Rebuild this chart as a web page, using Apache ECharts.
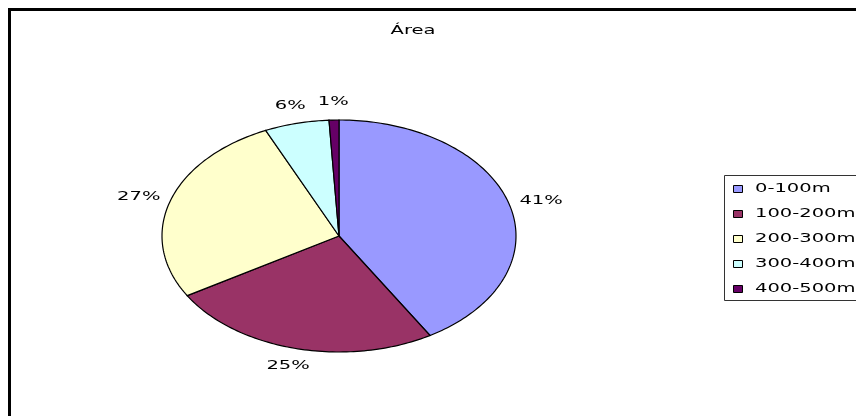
<!DOCTYPE html>
<html>
<head>
<meta charset="utf-8">
<script src="https://cdn.jsdelivr.net/npm/echarts@6/dist/echarts.min.js"></script>
<style>
  html, body { margin: 0; padding: 0; background: #fff; }
  #chart { width: 856px; height: 416px; }
</style>
</head>
<body>
<div id="chart"></div>
<script>
var categories = ['0-100m', '100-200m', '200-300m', '300-400m', '400-500m'];
var values = [41.4, 25.0, 26.8, 5.9, 0.9];
var colors = ['#9999ff', '#993366', '#ffffcc', '#ccffff', '#660066'];

var total = values.reduce(function (a, b) { return a + b; }, 0);
// the source picture is stretched horizontally: ellipse pie and wide text
var cx = 339, cy = 236, rx = 177, ry = 116, labelGap = 11;
var stretch = 1.5;
var textFont = '13px "DejaVu Sans", sans-serif';

var measureCtx = document.createElement('canvas').getContext('2d');
measureCtx.font = textFont;

function sliceRenderer(idx) {
    return function (params, api) {
        var before = 0;
        for (var i = 0; i < idx; i++) before += values[i];
        var a0 = before / total * Math.PI * 2;
        var a1 = (before + values[idx]) / total * Math.PI * 2;
        var pts = [[cx, cy]];
        var steps = Math.max(2, Math.ceil((a1 - a0) / 0.02));
        for (var s = 0; s <= steps; s++) {
            var a = a0 + (a1 - a0) * s / steps;
            pts.push([cx + rx * Math.sin(a), cy - ry * Math.cos(a)]);
        }
        var mid = (a0 + a1) / 2;
        var txt = Math.round(values[idx] / total * 100) + '%';
        var w = measureCtx.measureText(txt).width * stretch;
        var sx = Math.sin(mid), sy = -Math.cos(mid);
        return {
            type: 'group',
            children: [{
                type: 'polygon',
                shape: { points: pts },
                style: { fill: api.visual('color'), stroke: '#000', lineWidth: 1.2 }
            }, {
                type: 'text',
                x: cx + rx * sx + sx * (labelGap + w / 2),
                y: cy + ry * sy + sy * (labelGap + 7),
                scaleX: stretch,
                style: {
                    text: txt,
                    font: textFont,
                    fill: '#000',
                    align: 'center',
                    verticalAlign: 'middle'
                }
            }]
        };
    };
}

var series = categories.map(function (name, i) {
    return {
        name: name,
        type: 'custom',
        coordinateSystem: 'none',
        renderItem: sliceRenderer(i),
        data: [[values[i]]],
        itemStyle: { color: colors[i] },
        silent: true
    };
});

// legend box, drawn as graphics so its text can be stretched like the source
var legendItems = [];
categories.forEach(function (name, i) {
    var y = 189 + i * 25;
    legendItems.push({
        type: 'rect',
        shape: { x: 733.5, y: y - 3.5, width: 9, height: 7 },
        style: { fill: colors[i], stroke: '#000', lineWidth: 1 }
    });
    legendItems.push({
        type: 'text',
        x: 755,
        y: y,
        scaleX: stretch,
        style: { text: name, font: textFont, fill: '#000', verticalAlign: 'middle' }
    });
});

var option = {
    animation: false,
    backgroundColor: '#fff',
    graphic: [{
        type: 'rect',
        shape: { x: 9.5, y: 9.5, width: 900, height: 500 },
        style: { fill: 'none', stroke: '#000', lineWidth: 3 }
    }, {
        type: 'text',
        x: 413,
        y: 31,
        scaleX: stretch,
        style: { text: 'Área', font: textFont, fill: '#000', align: 'center', verticalAlign: 'middle' }
    }, {
        type: 'rect',
        shape: { x: 724.5, y: 175.5, width: 200, height: 125 },
        style: { fill: 'none', stroke: '#333', lineWidth: 1 }
    }].concat(legendItems),
    series: series
};

var chart = echarts.init(document.getElementById('chart'));
chart.setOption(option);
</script>
</body>
</html>
